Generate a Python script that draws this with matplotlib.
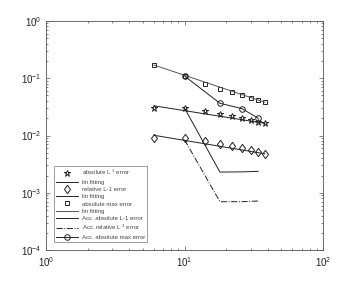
import matplotlib
matplotlib.use("Agg")
import matplotlib.pyplot as plt

# data
n = [6, 10, 14, 18, 22, 26, 30, 34, 38]
abs_l1 = [0.0298, 0.0300, 0.0272, 0.0240, 0.0219, 0.0202, 0.0189, 0.0175, 0.0163]
rel_l1 = [0.0089, 0.0092, 0.0080, 0.0072, 0.0066, 0.0061, 0.0056, 0.0052, 0.0048]
abs_max = [0.170, 0.109, 0.080, 0.066, 0.0568, 0.0503, 0.0452, 0.0417, 0.0380]

fit_n = [6, 38]
fit_abs_l1 = [0.0330, 0.0163]
fit_rel_l1 = [0.0101, 0.0048]
fit_abs_max = [0.170, 0.0380]

acc_n = [10, 18, 26, 34]
acc_abs_l1 = [0.0300, 0.00230, 0.00232, 0.00237]
acc_rel_l1 = [0.0084, 0.00070, 0.00070, 0.00072]
acc_abs_max = [0.109, 0.0365, 0.0294, 0.0200]

plt.rcParams['font.family'] = ['Liberation Sans', 'DejaVu Sans']

fig = plt.figure(figsize=(3.57, 2.82), dpi=100)
ax = fig.add_axes([0.129, 0.113, 0.776, 0.813])

# matlab-like diamond, a bit taller than wide
diamond = [(0, 1), (0.72, 0), (0, -1), (-0.72, 0), (0, 1)]

lc = '#222222'
ax.plot(n, abs_l1, linestyle='none', marker='*', color=lc, mfc='none', ms=4.5, mew=0.7,
        label='absolute L $^{1}$ error')
ax.plot(fit_n, fit_abs_l1, color=lc, lw=0.7, label='lin fitting')
ax.plot(n, rel_l1, linestyle='none', marker=diamond, color=lc, mfc='none', ms=6, mew=0.7,
        label='relative L-1 error')
ax.plot(fit_n, fit_rel_l1, color=lc, lw=0.7, label='lin fitting')
ax.plot(n, abs_max, linestyle='none', marker='s', color=lc, mfc='none', ms=3.4, mew=0.7,
        label='absolute max error')
ax.plot(fit_n, fit_abs_max, color='#555555', lw=0.7, label='lin fitting')
ax.plot(acc_n, acc_abs_l1, color=lc, lw=0.7, label='Acc. absolute L-1 error')
ax.plot(acc_n, acc_rel_l1, color=lc, lw=0.7, linestyle='-.', label='Acc. relative L $^{1}$ error')
ax.plot(acc_n, acc_abs_max, color=lc, lw=0.7, marker='o', mfc='none', ms=4, mew=0.7,
        label='Acc. absolute max error')

ax.set_xscale('log')
ax.set_yscale('log')
ax.set_xlim(1, 100)
ax.set_ylim(1e-4, 1)

for s in ax.spines.values():
    s.set_color('#555555')
    s.set_linewidth(0.6)
ax.tick_params(which='both', direction='in', top=True, right=True, colors='#555555',
               labelcolor='#222222', labelsize=7, width=0.5)
ax.tick_params(which='major', length=3)
ax.tick_params(which='minor', length=1.5)

leg = ax.legend(loc='lower left', fontsize=4.3, frameon=True, fancybox=False, handlelength=3.6,
                labelspacing=0.35, borderpad=0.4, handletextpad=0.6, borderaxespad=0,
                bbox_to_anchor=(0.029, 0.035))
leg.get_frame().set_edgecolor('#555555')
leg.get_frame().set_linewidth(0.5)
for t in leg.get_texts():
    t.set_color('#444444')

fig.savefig('out.png', dpi=100)
